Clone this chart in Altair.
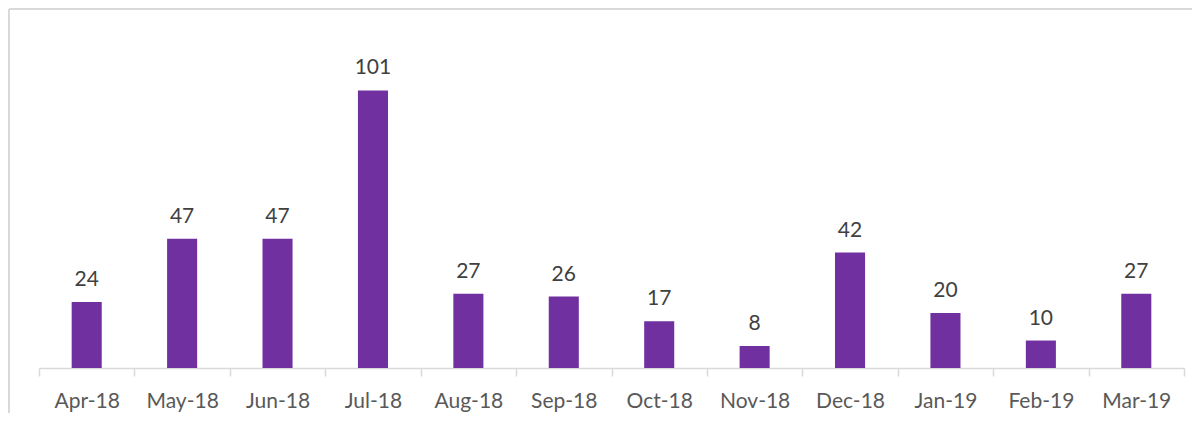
import altair as alt
import pandas as pd

months = ["Apr-18", "May-18", "Jun-18", "Jul-18", "Aug-18", "Sep-18",
          "Oct-18", "Nov-18", "Dec-18", "Jan-19", "Feb-19", "Mar-19"]
violations = [24, 47, 47, 101, 27, 26, 17, 8, 42, 20, 10, 27]

df = pd.DataFrame({"month": months, "count": violations})

FONT = "Lato"
PURPLE = "#7030A0"

x_enc = alt.X("month:N", sort=months,
              scale=alt.Scale(paddingInner=0, paddingOuter=0),
              axis=alt.Axis(title=None, labelAngle=0, labelFont=FONT,
                            labelFontSize=21, labelColor="#595959",
                            labelPadding=14, tickBand="extent", tickSize=8,
                            tickColor="#d9d9d9", tickWidth=1.5,
                            domainColor="#d9d9d9", domainWidth=1.5,
                            grid=False))
y_enc = alt.Y("count:Q", scale=alt.Scale(domain=[0, 131], nice=False),
              axis=None)

base = alt.Chart(df).encode(x=x_enc, y=y_enc)

bars = base.mark_bar(color=PURPLE, width=alt.RelativeBandSize(0.315))
labels = base.mark_text(font=FONT, fontSize=21, color="#404040",
                        baseline="alphabetic", dy=-16).encode(text="count:Q")

one = pd.DataFrame({"a": [0]})
frame_top = alt.Chart(one).mark_rule(color="#d9d9d9", strokeWidth=2).encode(
    x=alt.value(-30), x2=alt.value(1200), y=alt.value(1))
frame_left = alt.Chart(one).mark_rule(color="#d9d9d9", strokeWidth=2).encode(
    x=alt.value(-30), y=alt.value(1), y2=alt.value(500))

chart = alt.layer(frame_top, frame_left, bars, labels).properties(
    width=1145, height=360,
    autosize=alt.AutoSizeParams(type="none"),
    padding={"left": 31, "top": 0, "right": 8, "bottom": 45},
).configure_view(stroke=None)

chart.save("out.html", embed_options={"renderer": "svg", "actions": False})
